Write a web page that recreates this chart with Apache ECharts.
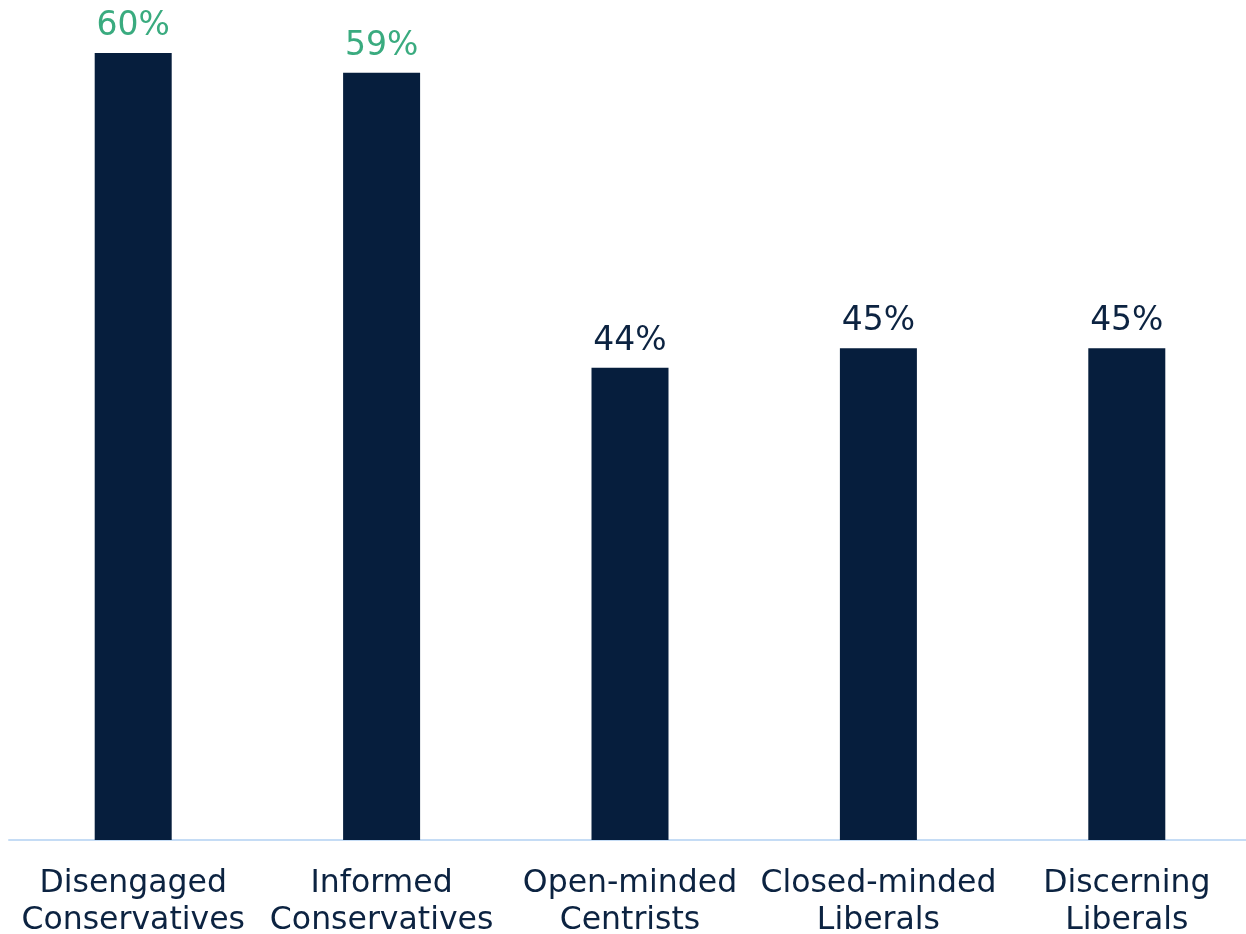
<!DOCTYPE html>
<html>
<head>
<meta charset="utf-8">
<title>Segments</title>
<script src="https://cdn.jsdelivr.net/npm/echarts@6/dist/echarts.min.js"></script>
<style>
  html, body { margin: 0; padding: 0; background: #ffffff; overflow: hidden; }
  #chart { width: 1246px; height: 934px; }
</style>
</head>
<body>
<div id="chart"></div>
<script>
// Audience segments and the share of each segment
const categories = [
  'Disengaged\nConservatives',
  'Informed\nConservatives',
  'Open-minded\nCentrists',
  'Closed-minded\nLiberals',
  'Discerning\nLiberals'
];
const values = [60, 59, 44, 45, 45];
const leanings = ['Conservative', 'Conservative', 'Centrist', 'Liberal', 'Liberal'];

const NAVY = '#061e3d';
const GREEN = '#3aab7f';
const TEXT = '#0c2341';
const FONT = '"DejaVu Sans", Verdana, sans-serif';

const seriesData = values.map((v, i) => ({
  value: v,
  label: { color: leanings[i] === 'Conservative' ? GREEN : TEXT }
}));

const chart = echarts.init(document.getElementById('chart'), null, { renderer: 'canvas' });
chart.setOption({
  animation: false,
  backgroundColor: '#ffffff',
  grid: {
    left: 9, width: 1242, top: 53, bottom: 94,
    containLabel: false,
    outerBoundsMode: 'none'
  },
  xAxis: {
    type: 'category',
    data: categories,
    axisLine: { show: true, lineStyle: { color: '#c5dcf5', width: 2 } },
    axisTick: { show: false },
    axisLabel: {
      interval: 0,
      margin: 25,
      color: TEXT,
      fontFamily: FONT,
      fontSize: 31.5,
      lineHeight: 37
    }
  },
  yAxis: {
    type: 'value',
    min: 20,
    max: 60,
    show: false,
    splitLine: { show: false }
  },
  series: [{
    type: 'bar',
    data: seriesData,
    barWidth: 77,
    itemStyle: { color: NAVY },
    label: {
      show: true,
      position: 'top',
      distance: 10,
      formatter: '{c}%',
      fontFamily: FONT,
      fontSize: 33
    }
  }]
});
</script>
</body>
</html>
